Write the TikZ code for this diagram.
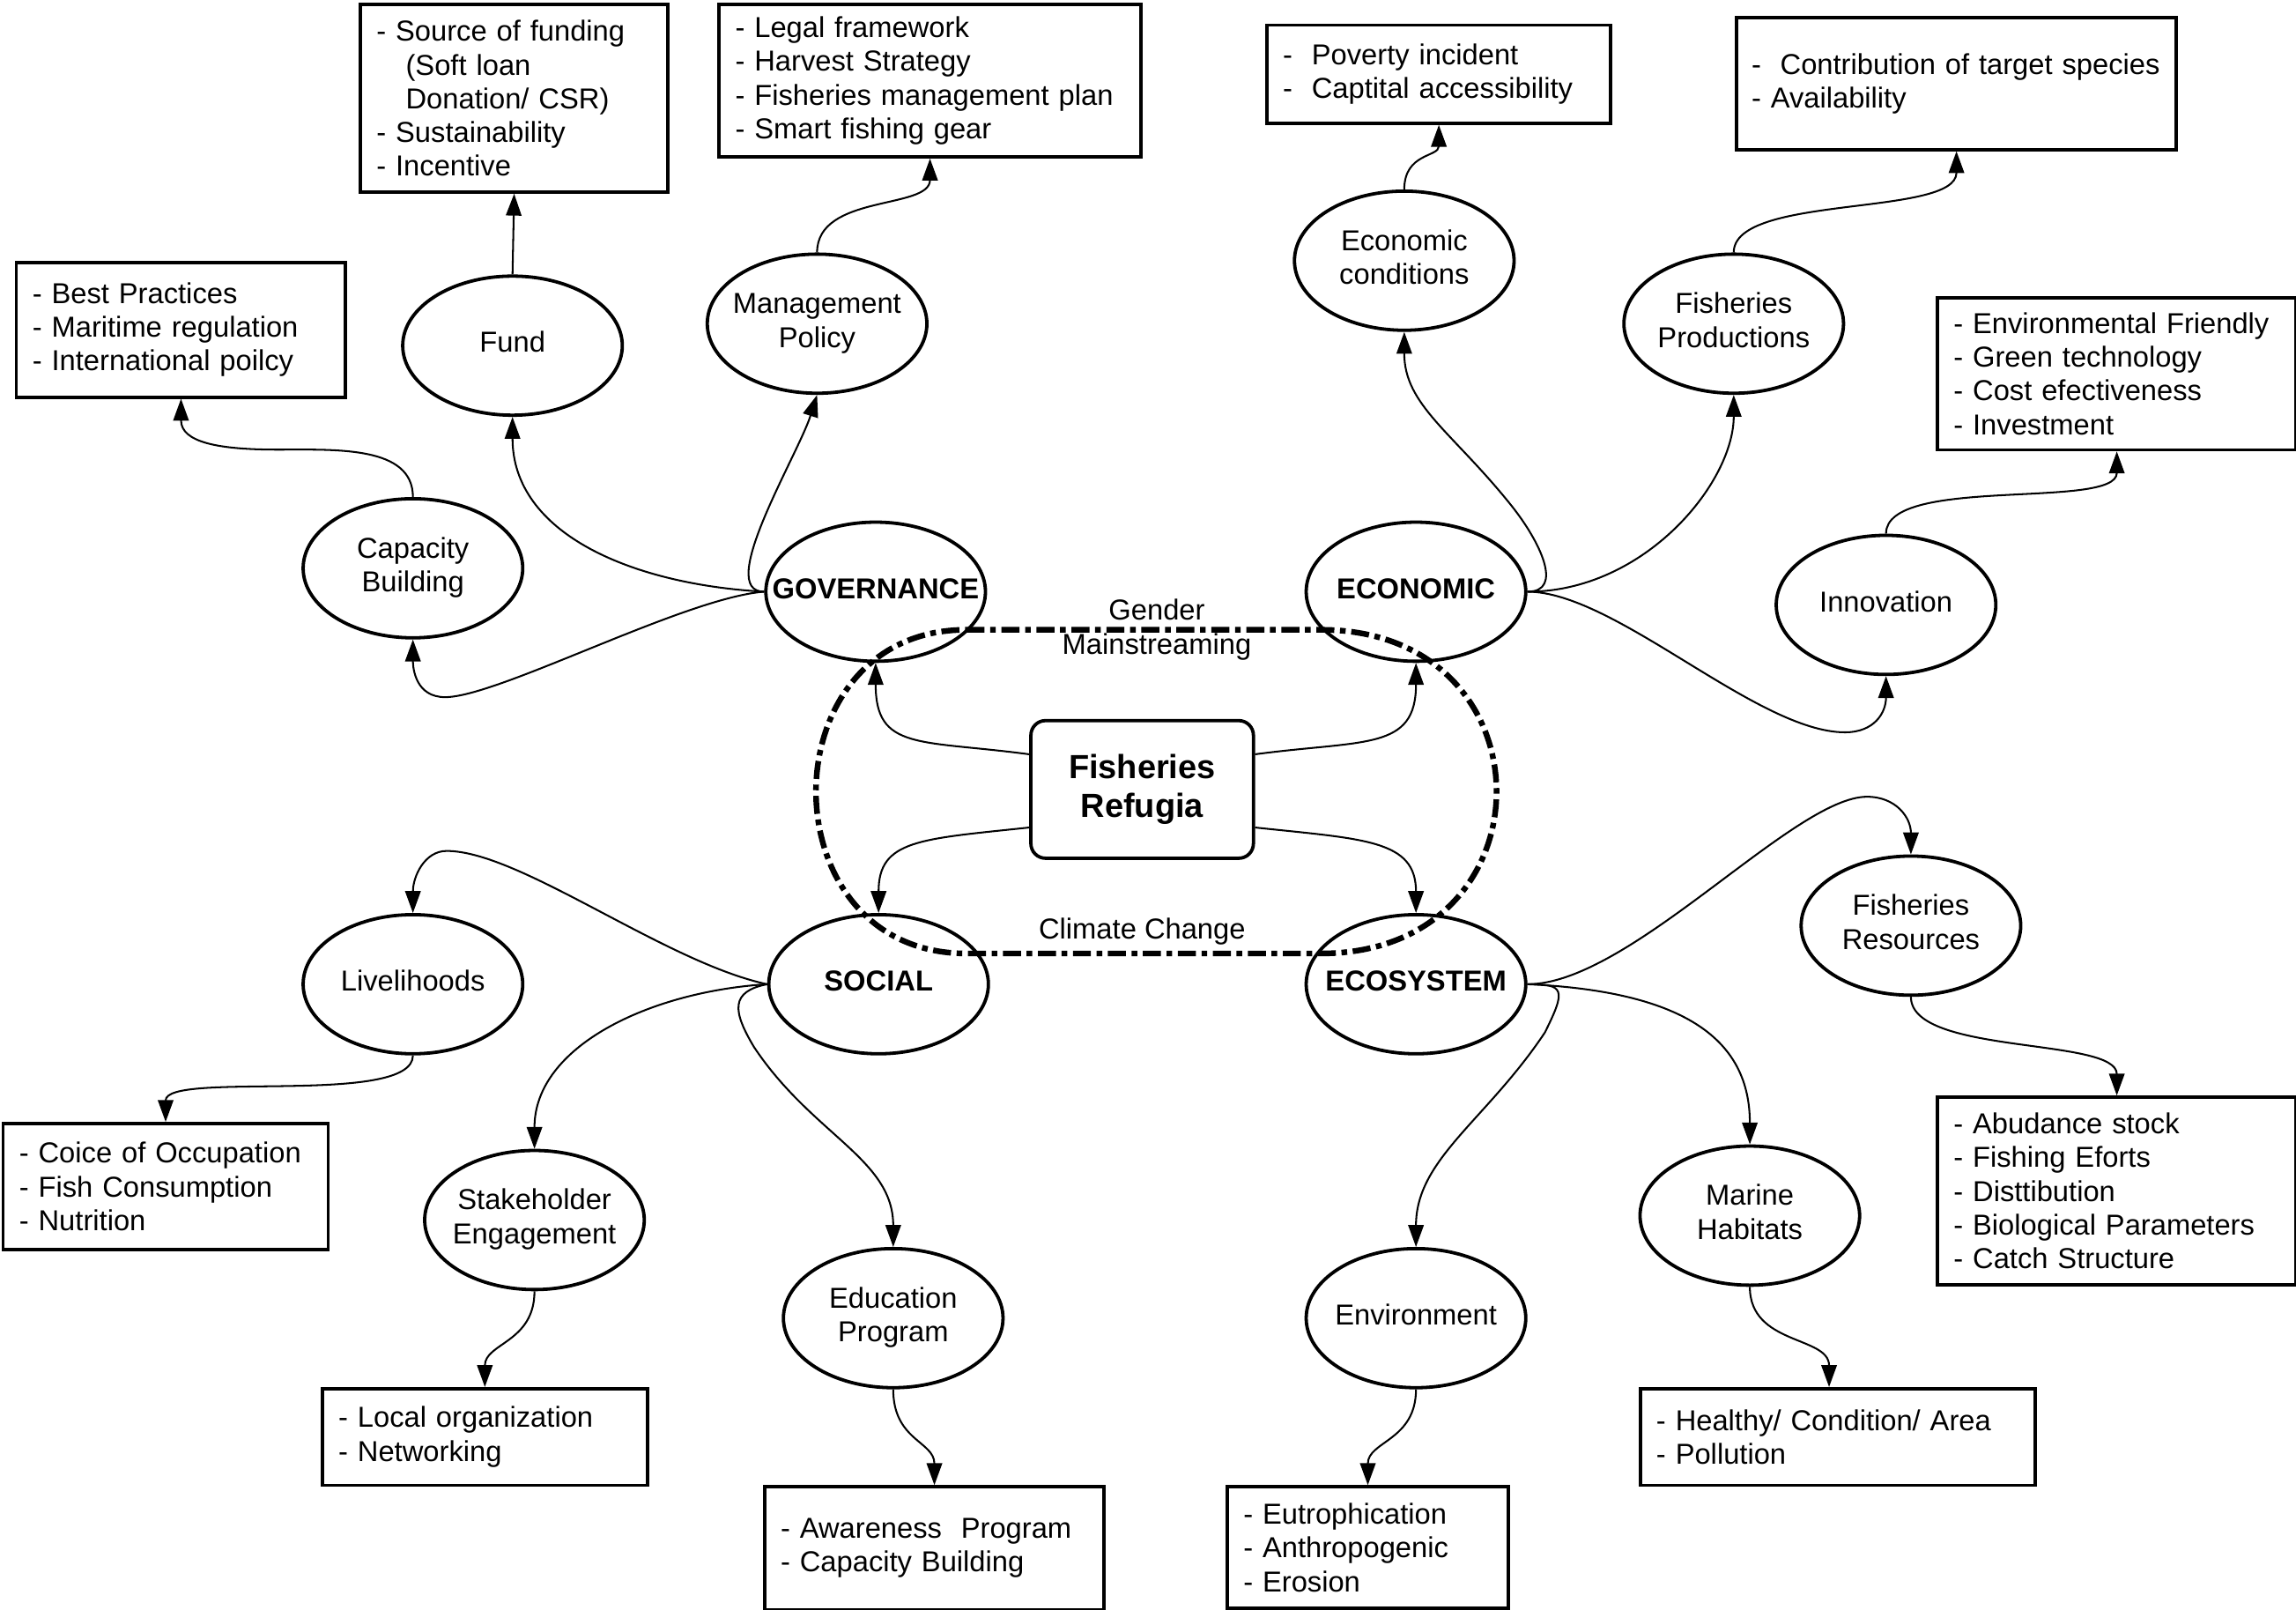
\documentclass[tikz,border=0pt]{standalone}
\usepackage{fontspec}
\setmainfont{Liberation Sans}
\usetikzlibrary{arrows.meta, shapes.geometric}

% text set in the middle of an ellipse, without widening it
\newcommand{\elltext}[1]{\makebox[0pt]{\begin{tabular}{@{}c@{}}#1\end{tabular}}}

\begin{document}
\begin{tikzpicture}[
        x=0.02cm, y=-0.02cm,
        font=\fontsize{11.2}{13.1}\selectfont,
        bubble/.style={draw, ellipse, line width=1.3pt, minimum width=3cm, minimum height=1.9cm, inner sep=0pt},
        pillar/.style={bubble, font=\fontsize{11.2}{13.1}\selectfont\bfseries},
        info/.style={draw, line width=1.3pt, anchor=north west, align=left, inner xsep=0.22cm, inner ysep=0pt},
        hub/.style={draw, line width=1.3pt, rounded corners=0.2cm, minimum width=3.04cm, minimum height=1.88cm, align=center, font=\fontsize{13}{15}\selectfont\bfseries},
        line/.style={-{Triangle[length=8.5pt, width=6pt]}, line width=0.7pt},
        issue/.style={line width=2.2pt, dash pattern=on 7pt off 2.2pt on 2.2pt off 2.2pt}
    ]
    \useasboundingbox (0,0) rectangle (1568,1099);

    % Centre: refugia and the four pillars
    \node[hub] (refugia) at (780,539) {Fisheries\\Refugia};
    \node[pillar] (gov) at (598,404) {\elltext{GOVERNANCE}};
    \node[pillar] (econ) at (967,404) {\elltext{ECONOMIC}};
    \node[pillar] (social) at (600,672) {\elltext{SOCIAL}};
    \node[pillar] (ecosys) at (967,672) {\elltext{ECOSYSTEM}};

    % Governance side
    \node[bubble] (cap) at (282,388) {\elltext{Capacity\\Building}};
    \node[bubble] (fund) at (350,236) {\elltext{Fund}};
    \node[bubble] (mgmt) at (558,221) {\elltext{Management\\Policy}};
    \node[info, text width=4.06cm, minimum height=1.84cm] (capbox) at (10,178)
        {- Best Practices\\- Maritime regulation\\- International poilcy};
    \node[info, text width=3.76cm, minimum height=2.56cm] (fundbox) at (245,2)
        {- Source of funding\\\hspace*{0.4cm}(Soft loan\\\hspace*{0.4cm}Donation/ CSR)\\- Sustainability\\- Incentive};
    \node[info, text width=5.32cm, minimum height=2.08cm] (mgmtbox) at (490,2)
        {- Legal framework\\- Harvest Strategy\\- Fisheries management plan\\- Smart fishing gear};

    % Economic side
    \node[bubble] (econcond) at (959,178) {\elltext{Economic\\conditions}};
    \node[bubble] (prod) at (1184,221) {\elltext{Fisheries\\Productions}};
    \node[bubble] (innov) at (1288,413) {\elltext{Innovation}};
    \node[info, text width=4.26cm, minimum height=1.34cm] (econbox) at (864,16)
        {-\ \ Poverty incident\\-\ \ Captital accessibility};
    \node[info, inner xsep=0.2cm, text width=5.6cm, minimum height=1.8cm] (prodbox) at (1185,11)
        {\mbox{-\ \ Contribution of target species}\\- Availability};
    \node[info, text width=4.46cm, minimum height=2.08cm] (innovbox) at (1322,202)
        {- Environmental Friendly\\- Green technology\\- Cost efectiveness\\- Investment};

    % Social side
    \node[bubble] (liv) at (282,672) {\elltext{Livelihoods}};
    \node[bubble] (stake) at (365,833) {\elltext{Stakeholder\\Engagement}};
    \node[bubble] (edu) at (610,900) {\elltext{Education\\Program}};
    \node[info, text width=4.0cm, minimum height=1.72cm] (livbox) at (1,766)
        {- Coice of Occupation\\- Fish Consumption\\- Nutrition};
    \node[info, text width=4.0cm, minimum height=1.32cm] (stakebox) at (219,947)
        {- Local organization\\- Networking};
    \node[info, text width=4.2cm, minimum height=1.68cm] (edubox) at (521,1014)
        {- Awareness\ \ Program\\- Capacity Building};

    % Ecosystem side
    \node[bubble] (fres) at (1305,632) {\elltext{Fisheries\\Resources}};
    \node[bubble] (mar) at (1195,830) {\elltext{Marine\\Habitats}};
    \node[bubble] (env) at (967,900) {\elltext{Environment}};
    \node[info, text width=4.46cm, minimum height=2.56cm] (fresbox) at (1322,748)
        {- Abudance stock\\- Fishing Eforts\\- Disttibution\\- Biological Parameters\\- Catch Structure};
    \node[info, text width=4.96cm, minimum height=1.32cm] (marbox) at (1119,947)
        {- Healthy/ Condition/ Area\\- Pollution};
    \node[info, text width=3.4cm, minimum height=1.66cm] (envbox) at (837,1014)
        {- Eutrophication\\- Anthropogenic\\- Erosion};

    % Cross-cutting issues round the centre
    \draw[issue] (660,430) -- (902,430) .. controls (1062,430) and (1062,651) .. (902,651)
        -- (660,651) .. controls (523,651) and (523,430) .. (660,430);
    \node[align=center] (gender) at (790,430) {Gender\\Mainstreaming};
    \node (climate) at (780,636) {Climate Change};

    % Centre to pillars
    \draw[line] ([yshift=0.48cm]refugia.west) .. controls +(-75,-10) and +(0,60) .. (gov.south);
    \draw[line] ([yshift=0.48cm]refugia.east) .. controls +(75,-10) and +(0,60) .. (econ.south);
    \draw[line] ([yshift=-0.52cm]refugia.west) .. controls +(-75,8) and +(0,-50) .. (social.north);
    \draw[line] ([yshift=-0.52cm]refugia.east) .. controls +(75,8) and +(0,-50) .. (ecosys.north);

    % Governance arrows
    \draw[line] (gov.west) .. controls +(-90,-5) and +(0,80) .. (fund.south);
    \draw[line] (gov.west) .. controls +(-34,0) and +(-13,41) .. (mgmt.south);
    \draw[line] (gov.west) .. controls +(-54,4) and +(36,0) .. (304,476)
        .. controls +(-20,0) and +(0,20) .. (cap.south);
    \draw[line] (cap.north) .. controls +(0,-35) and +(40,0) .. (190,307)
        .. controls +(-40,0) and +(0,30) .. (capbox.south);
    \draw[line] (fund.north) -- (fundbox.south);
    \draw[line] (mgmt.north) .. controls +(0,-40) and +(0,35) .. (mgmtbox.south);

    % Economic arrows
    \draw[line] (econ.east) .. controls +(25,0) and +(20,25) .. (1032,345)
        .. controls +(-40,-50) and +(0,50) .. (econcond.south);
    \draw[line] (econ.east) .. controls +(80,0) and +(0,60) .. (prod.south);
    \draw[line] (econ.east) .. controls +(60,0) and +(-60,0) .. (1260,500)
        .. controls +(20,0) and +(0,25) .. (innov.south);
    \draw[line] (econcond.north) .. controls +(0,-25) and +(0,22) .. (econbox.south);
    \draw[line] (prod.north) .. controls +(0,-40) and +(0,45) .. (prodbox.south);
    \draw[line] (innov.north) .. controls +(0,-40) and +(0,40) .. (innovbox.south);

    % Social arrows
    \draw[line] (social.west) .. controls +(-70,-15) and +(50,0) .. (305,581)
        .. controls +(-15,0) and +(0,-25) .. (liv.north);
    \draw[line] (social.west) .. controls +(-80,5) and +(0,-70) .. (stake.north);
    \draw[line] (social.west) .. controls +(-25,5) and +(-15,-25) .. (515,715)
        .. controls +(40,60) and +(0,-60) .. (edu.north);
    \draw[line] (liv.south) .. controls +(0,35) and +(0,-35) .. (livbox.north);
    \draw[line] (stake.south) .. controls +(0,35) and +(0,-30) .. (stakebox.north);
    \draw[line] (edu.south) .. controls +(0,35) and +(0,-30) .. (edubox.north);

    % Ecosystem arrows
    \draw[line] (ecosys.east) .. controls +(70,0) and +(-50,0) .. (1275,544)
        .. controls +(20,0) and +(0,-25) .. (fres.north);
    \draw[line] (ecosys.east) .. controls +(110,5) and +(0,-70) .. (mar.north);
    \draw[line] (ecosys.east) .. controls +(25,0) and +(15,-30) .. (1055,705)
        .. controls +(-40,60) and +(0,-60) .. (env.north);
    \draw[line] (fres.south) .. controls +(0,40) and +(0,-40) .. (fresbox.north);
    \draw[line] (mar.south) .. controls +(0,40) and +(0,-35) .. ([xshift=-0.12cm]marbox.north);
    \draw[line] (env.south) .. controls +(0,35) and +(0,-30) .. (envbox.north);

\end{tikzpicture}
\end{document}
